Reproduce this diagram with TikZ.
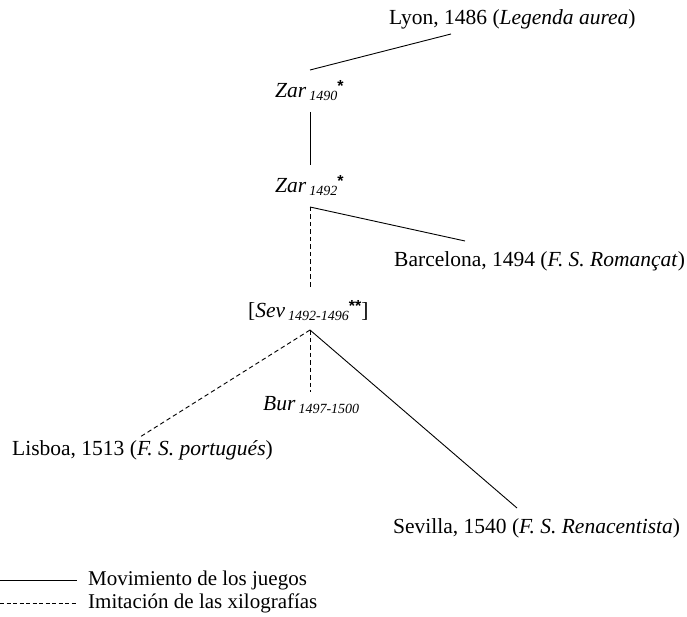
\documentclass[tikz,border=0pt]{standalone}
\usepackage{fontspec}
\setmainfont{Liberation Serif}
\setsansfont{Liberation Sans}
\newcommand{\mysub}[1]{\kern3pt\raisebox{-3pt}{\fontsize{14}{16}\selectfont\itshape #1}}
\newcommand{\myast}[1]{\raisebox{6pt}{\fontsize{16}{16}\selectfont\sffamily\bfseries #1}}
\begin{document}
\begin{tikzpicture}[x=1pt,y=-1pt,
  lbl/.style={anchor=base west,inner sep=0pt,font=\fontsize{21.5}{25}\selectfont},
  leglbl/.style={lbl,font=\fontsize{21}{25}\selectfont},
  solidln/.style={line width=0.9pt},
  dashln/.style={line width=0.9pt,dash pattern=on 4.5pt off 3pt}]
\useasboundingbox (0,0) rectangle (687,617);
\node[lbl] (lyon) at (389,25) {Lyon, 1486 (\textit{Legenda aurea})};
\node[lbl] (zar90) at (275,98) {\textit{Zar}\mysub{1490}\myast{*}};
\node[lbl] (zar92) at (275,193) {\textit{Zar}\mysub{1492}\myast{*}};
\node[lbl] (barc) at (394,267) {Barcelona, 1494 (\textit{F. S. Romançat})};
\node[lbl] (sev) at (248,317) {[\textit{Sev}\mysub{1492-1496}\myast{**}]};
\node[lbl] (bur) at (263,410) {\textit{Bur}\mysub{1497-1500}};
\node[lbl] (lis) at (12,455) {Lisboa, 1513 (\textit{F. S. portugués})};
\node[lbl] (sevi) at (393,533) {Sevilla, 1540 (\textit{F. S. Renacentista})};
\node[leglbl] (leg1) at (88,585) {Movimiento de los juegos};
\node[leglbl] (leg2) at (88,608) {Imitación de las xilografías};
\coordinate (lyonb) at (451,34);
\coordinate (zar90t) at (310,70);
\coordinate (zar90b) at (310,112);
\coordinate (zar92t) at (310,165);
\coordinate (zar92b) at (310,207);
\coordinate (barct) at (465,241);
\coordinate (sevt) at (310,288);
\coordinate (sevb) at (310,330);
\coordinate (list) at (140,437);
\coordinate (burt) at (310,392);
\coordinate (sevit) at (517,508);
\coordinate (l1a) at (0,580);
\coordinate (l1b) at (77,580);
\coordinate (l2a) at (0,603);
\coordinate (l2b) at (77,603);
\draw[solidln] (lyonb) -- (zar90t);
\draw[solidln] (zar90b) -- (zar92t);
\draw[solidln] (zar92b) -- (barct);
\draw[dashln] (zar92b) -- (sevt);
\draw[dashln] (sevb) -- (list);
\draw[dashln] (sevb) -- (burt);
\draw[solidln] (sevb) -- (sevit);
\draw[solidln] (l1a) -- (l1b);
\draw[dashln,dash pattern=on 4pt off 2.5pt] (l2a) -- (l2b);
\end{tikzpicture}
\end{document}
